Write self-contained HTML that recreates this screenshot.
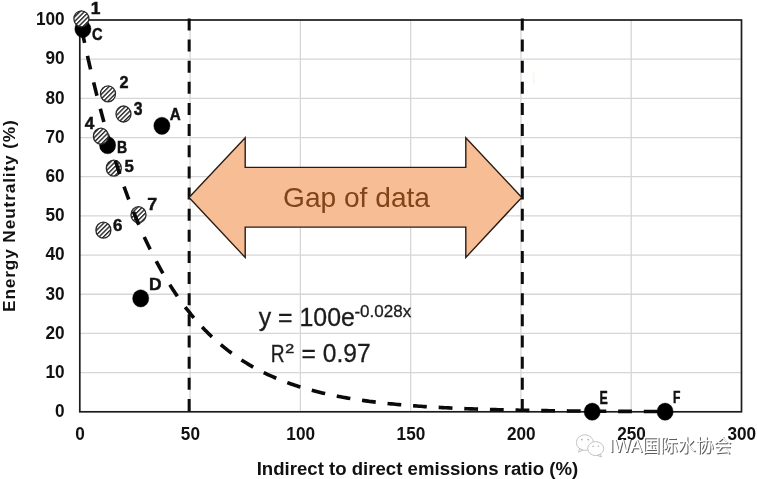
<!DOCTYPE html>
<html lang="en"><head><meta charset="utf-8"><title>Energy neutrality vs indirect to direct emissions ratio</title>
<style>html,body{margin:0;padding:0;background:#fff;}body{width:757px;height:479px;overflow:hidden;}svg{display:block;filter:blur(0.45px);}text{font-family:"Liberation Sans", Arial, Helvetica, sans-serif;}</style></head><body>
<svg width="757" height="479" viewBox="0 0 757 479">
<defs><pattern id="hatch" patternUnits="userSpaceOnUse" width="3.2" height="3.2" patternTransform="rotate(-45)"><rect width="3.2" height="3.2" fill="#fff"/><rect x="0" y="0" width="3.2" height="1.4" fill="#262626"/></pattern></defs>
<rect width="757" height="479" fill="#fff"/>
<path d="M79.8 372.62H741.5M79.8 333.44H741.5M79.8 294.26H741.5M79.8 255.08H741.5M79.8 215.90H741.5M79.8 176.72H741.5M79.8 137.54H741.5M79.8 98.36H741.5M79.8 59.18H741.5M190.08 20.0V411.8M300.37 20.0V411.8M410.65 20.0V411.8M520.93 20.0V411.8M631.22 20.0V411.8" stroke="#d6d6d6" stroke-width="1.3" fill="none"/>
<rect x="79.8" y="20.0" width="661.7" height="391.8" fill="none" stroke="#1c1c1c" stroke-width="1.7"/>
<text transform="translate(64.60 417.10) scale(1.0000 1.0650)" font-size="17.20" font-weight="bold" fill="#111" text-anchor="end">0</text>
<text transform="translate(64.60 377.92) scale(1.0000 1.0650)" font-size="17.20" font-weight="bold" fill="#111" text-anchor="end">10</text>
<text transform="translate(64.60 338.74) scale(1.0000 1.0650)" font-size="17.20" font-weight="bold" fill="#111" text-anchor="end">20</text>
<text transform="translate(64.60 299.56) scale(1.0000 1.0650)" font-size="17.20" font-weight="bold" fill="#111" text-anchor="end">30</text>
<text transform="translate(64.60 260.38) scale(1.0000 1.0650)" font-size="17.20" font-weight="bold" fill="#111" text-anchor="end">40</text>
<text transform="translate(64.60 221.20) scale(1.0000 1.0650)" font-size="17.20" font-weight="bold" fill="#111" text-anchor="end">50</text>
<text transform="translate(64.60 182.02) scale(1.0000 1.0650)" font-size="17.20" font-weight="bold" fill="#111" text-anchor="end">60</text>
<text transform="translate(64.60 142.84) scale(1.0000 1.0650)" font-size="17.20" font-weight="bold" fill="#111" text-anchor="end">70</text>
<text transform="translate(64.60 103.66) scale(1.0000 1.0650)" font-size="17.20" font-weight="bold" fill="#111" text-anchor="end">80</text>
<text transform="translate(64.60 64.48) scale(1.0000 1.0650)" font-size="17.20" font-weight="bold" fill="#111" text-anchor="end">90</text>
<text transform="translate(64.60 25.30) scale(1.0000 1.0650)" font-size="17.20" font-weight="bold" fill="#111" text-anchor="end">100</text>
<text transform="translate(80.10 439.90) scale(1.0000 1.0650)" font-size="17.20" font-weight="bold" fill="#111" text-anchor="middle">0</text>
<text transform="translate(190.38 439.90) scale(1.0000 1.0650)" font-size="17.20" font-weight="bold" fill="#111" text-anchor="middle">50</text>
<text transform="translate(300.67 439.90) scale(1.0000 1.0650)" font-size="17.20" font-weight="bold" fill="#111" text-anchor="middle">100</text>
<text transform="translate(410.95 439.90) scale(1.0000 1.0650)" font-size="17.20" font-weight="bold" fill="#111" text-anchor="middle">150</text>
<text transform="translate(521.23 439.90) scale(1.0000 1.0650)" font-size="17.20" font-weight="bold" fill="#111" text-anchor="middle">200</text>
<text transform="translate(631.52 439.90) scale(1.0000 1.0650)" font-size="17.20" font-weight="bold" fill="#111" text-anchor="middle">250</text>
<text transform="translate(741.80 439.90) scale(1.0000 1.0650)" font-size="17.20" font-weight="bold" fill="#111" text-anchor="middle">300</text>
<text transform="translate(417.40 474.50) scale(1.0000 1.0650)" font-size="16.60" font-weight="bold" fill="#111" text-anchor="middle" textLength="321.5" lengthAdjust="spacingAndGlyphs">Indirect to direct emissions ratio (%)</text>
<text transform="translate(15.3 216.1) rotate(-90) scale(1 0.98)" font-size="17.3" font-weight="bold" fill="#111" text-anchor="middle" textLength="191.8" lengthAdjust="spacing">Energy Neutrality (%)</text>
<path d="M189.15 18.4V411.2" stroke="#0c0c0c" stroke-width="3.0" stroke-dasharray="12 9.14" fill="none"/>
<path d="M522.30 18.4V411.2" stroke="#0c0c0c" stroke-width="3.0" stroke-dasharray="12 9.14" fill="none"/>
<rect x="532.8" y="72" width="1.8" height="12" fill="#f8f7ec"/>
<path d="M189 197.4 L245.2 137.7 V167.4 H465.8 V137.7 L521.8 197.4 L465.8 257.4 V227.1 H245.2 V257.4 Z" fill="#f7bd95" stroke="#2a1c14" stroke-width="1.4" stroke-linejoin="miter"/>
<text transform="translate(356.50 207.00) scale(1.0000 1.0300)" font-size="27.00" font-weight="normal" fill="#80431a" text-anchor="middle" textLength="147" lengthAdjust="spacingAndGlyphs">Gap of data</text>
<path d="M81.74 29.40 L82.15 31.33 L82.55 33.26 L82.96 35.19 L83.37 37.12 L83.78 39.05 L84.20 40.97 L84.61 42.90 M87.49 55.93 L87.92 57.85 L88.35 59.77 L88.79 61.69 L89.23 63.62 L89.67 65.54 L90.12 67.46 L90.57 69.38 M93.65 82.36 L94.12 84.27 L94.59 86.19 L95.06 88.10 L95.53 90.01 L96.01 91.93 L96.49 93.84 L96.97 95.75 M100.30 108.67 L100.81 110.57 L101.32 112.48 L101.83 114.38 L102.34 116.29 L102.86 118.19 L103.37 120.09 L103.90 121.99 M107.52 134.83 L108.07 136.72 L108.62 138.62 L109.17 140.51 L109.73 142.40 L110.30 144.29 L110.86 146.18 L111.43 148.06 M115.39 160.80 L115.99 162.68 L116.59 164.56 L117.20 166.43 L117.81 168.31 L118.43 170.18 L119.05 172.05 L119.68 173.92 M124.03 186.53 L124.69 188.39 L125.36 190.24 L126.03 192.10 L126.71 193.95 L127.39 195.80 L128.07 197.65 L128.77 199.49 M133.59 211.93 L134.32 213.76 L135.06 215.59 L135.81 217.41 L136.56 219.23 L137.32 221.05 L138.09 222.87 L138.86 224.68 M144.25 236.89 L145.07 238.68 L145.90 240.47 L146.74 242.25 L147.58 244.03 L148.43 245.81 L149.29 247.58 L150.16 249.36 M156.23 261.23 L157.16 262.97 L158.09 264.71 L159.04 266.44 L159.99 268.16 L160.96 269.88 L161.93 271.60 L162.91 273.31 M169.79 284.74 L170.84 286.40 L171.91 288.06 L172.98 289.71 L174.07 291.36 L175.16 293.00 L176.27 294.63 L177.38 296.26 M185.22 307.05 L186.42 308.61 L187.64 310.17 L188.86 311.71 L190.10 313.25 L191.34 314.77 L192.60 316.29 L193.87 317.80 M202.18 327.08 L203.54 328.51 L204.91 329.93 L206.30 331.33 L207.69 332.72 L209.10 334.10 L210.52 335.47 L211.95 336.83 M220.81 344.69 L222.33 345.96 L223.85 347.20 L225.39 348.43 L226.94 349.65 L228.50 350.85 L230.08 352.04 L231.66 353.22 M241.41 359.95 L243.07 361.01 L244.74 362.06 L246.42 363.09 L248.11 364.11 L249.81 365.11 L251.51 366.10 L253.23 367.07 M263.72 372.58 L265.49 373.44 L267.28 374.28 L269.06 375.11 L270.86 375.93 L272.66 376.73 L274.47 377.51 L276.28 378.28 M287.32 382.60 L289.17 383.27 L291.03 383.93 L292.89 384.57 L294.76 385.20 L296.63 385.82 L298.51 386.42 L300.39 387.01 M311.78 390.30 L313.68 390.81 L315.59 391.30 L317.50 391.79 L319.41 392.26 L321.33 392.72 L323.25 393.18 L325.17 393.62 M336.76 396.07 L338.70 396.45 L340.63 396.82 L342.57 397.18 L344.51 397.53 L346.45 397.87 L348.40 398.20 L350.34 398.53 M362.05 400.34 L364.00 400.62 L365.96 400.89 L367.91 401.15 L369.87 401.41 L371.82 401.66 L373.78 401.90 L375.73 402.14 M387.51 403.47 L389.47 403.67 L391.43 403.87 L393.39 404.06 L395.36 404.25 L397.32 404.43 L399.28 404.61 L401.25 404.78 M413.06 405.75 L415.02 405.89 L416.99 406.04 L418.96 406.18 L420.92 406.31 L422.89 406.45 L424.86 406.58 L426.82 406.70 M438.65 407.41 L440.62 407.51 L442.59 407.62 L444.56 407.72 L446.53 407.82 L448.50 407.91 L450.47 408.01 L452.44 408.10 M464.27 408.61 L466.24 408.69 L468.21 408.76 L470.18 408.84 L472.15 408.91 L474.12 408.98 L476.09 409.05 L478.07 409.12 M489.91 409.49 L491.88 409.54 L493.85 409.60 L495.82 409.65 L497.79 409.70 L499.76 409.75 L501.73 409.80 L503.70 409.85 M515.55 410.12 L517.52 410.16 L519.49 410.20 L521.46 410.24 L523.44 410.28 L525.41 410.32 L527.38 410.35 L529.35 410.39 M541.20 410.58 L543.17 410.61 L545.14 410.64 L547.11 410.67 L549.08 410.70 L551.05 410.72 L553.02 410.75 L555.00 410.78 M566.85 410.92 L568.82 410.94 L570.79 410.96 L572.76 410.98 L574.73 411.00 L576.70 411.02 L578.67 411.04 L580.64 411.06 M592.49 411.16 L594.47 411.17 L596.44 411.19 L598.41 411.20 L600.38 411.22 L602.35 411.23 L604.32 411.25 L606.29 411.26 M618.14 411.33 L620.11 411.35 L622.09 411.36 L624.06 411.37 L626.03 411.38 L628.00 411.39 L629.97 411.40 L631.94 411.41 M643.79 411.46 L645.76 411.47 L647.74 411.48 L649.71 411.49 L651.68 411.49 L653.65 411.50 L655.62 411.51 L657.59 411.52" fill="none" stroke="#0a0a0a" stroke-width="3.6"/>
<ellipse cx="82.9" cy="29.0" rx="8.10" ry="8.65" fill="#000" stroke="#000" stroke-width="0.4"/><ellipse cx="161.9" cy="125.8" rx="8.10" ry="8.65" fill="#000" stroke="#000" stroke-width="0.4"/><ellipse cx="107.6" cy="145.2" rx="8.10" ry="8.65" fill="#000" stroke="#000" stroke-width="0.4"/><ellipse cx="140.7" cy="298.4" rx="8.10" ry="8.65" fill="#000" stroke="#000" stroke-width="0.4"/><ellipse cx="592.2" cy="411.7" rx="8.10" ry="8.65" fill="#000" stroke="#000" stroke-width="0.4"/><ellipse cx="665.1" cy="411.7" rx="8.10" ry="8.65" fill="#000" stroke="#000" stroke-width="0.4"/>
<ellipse cx="81.4" cy="18.8" rx="7.50" ry="8.00" fill="url(#hatch)" stroke="#2a2a2a" stroke-width="1.3"/><ellipse cx="108.0" cy="93.8" rx="7.50" ry="8.00" fill="url(#hatch)" stroke="#2a2a2a" stroke-width="1.3"/><ellipse cx="123.5" cy="114.0" rx="7.50" ry="8.00" fill="url(#hatch)" stroke="#2a2a2a" stroke-width="1.3"/><ellipse cx="100.9" cy="136.2" rx="7.50" ry="8.00" fill="url(#hatch)" stroke="#2a2a2a" stroke-width="1.3"/><ellipse cx="113.8" cy="168.2" rx="7.50" ry="8.00" fill="url(#hatch)" stroke="#2a2a2a" stroke-width="1.3"/><ellipse cx="138.5" cy="214.7" rx="7.50" ry="8.00" fill="url(#hatch)" stroke="#2a2a2a" stroke-width="1.3"/><ellipse cx="103.4" cy="230.2" rx="7.50" ry="8.00" fill="url(#hatch)" stroke="#2a2a2a" stroke-width="1.3"/>
<clipPath id="c57"><circle cx="113.8" cy="168.2" r="9.5"/><circle cx="138.5" cy="214.7" r="9.5"/></clipPath>
<g clip-path="url(#c57)"><path d="M81.74 29.40 L82.15 31.33 L82.55 33.26 L82.96 35.19 L83.37 37.12 L83.78 39.05 L84.20 40.97 L84.61 42.90 M87.49 55.93 L87.92 57.85 L88.35 59.77 L88.79 61.69 L89.23 63.62 L89.67 65.54 L90.12 67.46 L90.57 69.38 M93.65 82.36 L94.12 84.27 L94.59 86.19 L95.06 88.10 L95.53 90.01 L96.01 91.93 L96.49 93.84 L96.97 95.75 M100.30 108.67 L100.81 110.57 L101.32 112.48 L101.83 114.38 L102.34 116.29 L102.86 118.19 L103.37 120.09 L103.90 121.99 M107.52 134.83 L108.07 136.72 L108.62 138.62 L109.17 140.51 L109.73 142.40 L110.30 144.29 L110.86 146.18 L111.43 148.06 M115.39 160.80 L115.99 162.68 L116.59 164.56 L117.20 166.43 L117.81 168.31 L118.43 170.18 L119.05 172.05 L119.68 173.92 M124.03 186.53 L124.69 188.39 L125.36 190.24 L126.03 192.10 L126.71 193.95 L127.39 195.80 L128.07 197.65 L128.77 199.49 M133.59 211.93 L134.32 213.76 L135.06 215.59 L135.81 217.41 L136.56 219.23 L137.32 221.05 L138.09 222.87 L138.86 224.68 M144.25 236.89 L145.07 238.68 L145.90 240.47 L146.74 242.25 L147.58 244.03 L148.43 245.81 L149.29 247.58 L150.16 249.36 M156.23 261.23 L157.16 262.97 L158.09 264.71 L159.04 266.44 L159.99 268.16 L160.96 269.88 L161.93 271.60 L162.91 273.31 M169.79 284.74 L170.84 286.40 L171.91 288.06 L172.98 289.71 L174.07 291.36 L175.16 293.00 L176.27 294.63 L177.38 296.26 M185.22 307.05 L186.42 308.61 L187.64 310.17 L188.86 311.71 L190.10 313.25 L191.34 314.77 L192.60 316.29 L193.87 317.80 M202.18 327.08 L203.54 328.51 L204.91 329.93 L206.30 331.33 L207.69 332.72 L209.10 334.10 L210.52 335.47 L211.95 336.83 M220.81 344.69 L222.33 345.96 L223.85 347.20 L225.39 348.43 L226.94 349.65 L228.50 350.85 L230.08 352.04 L231.66 353.22 M241.41 359.95 L243.07 361.01 L244.74 362.06 L246.42 363.09 L248.11 364.11 L249.81 365.11 L251.51 366.10 L253.23 367.07 M263.72 372.58 L265.49 373.44 L267.28 374.28 L269.06 375.11 L270.86 375.93 L272.66 376.73 L274.47 377.51 L276.28 378.28 M287.32 382.60 L289.17 383.27 L291.03 383.93 L292.89 384.57 L294.76 385.20 L296.63 385.82 L298.51 386.42 L300.39 387.01 M311.78 390.30 L313.68 390.81 L315.59 391.30 L317.50 391.79 L319.41 392.26 L321.33 392.72 L323.25 393.18 L325.17 393.62 M336.76 396.07 L338.70 396.45 L340.63 396.82 L342.57 397.18 L344.51 397.53 L346.45 397.87 L348.40 398.20 L350.34 398.53 M362.05 400.34 L364.00 400.62 L365.96 400.89 L367.91 401.15 L369.87 401.41 L371.82 401.66 L373.78 401.90 L375.73 402.14 M387.51 403.47 L389.47 403.67 L391.43 403.87 L393.39 404.06 L395.36 404.25 L397.32 404.43 L399.28 404.61 L401.25 404.78 M413.06 405.75 L415.02 405.89 L416.99 406.04 L418.96 406.18 L420.92 406.31 L422.89 406.45 L424.86 406.58 L426.82 406.70 M438.65 407.41 L440.62 407.51 L442.59 407.62 L444.56 407.72 L446.53 407.82 L448.50 407.91 L450.47 408.01 L452.44 408.10 M464.27 408.61 L466.24 408.69 L468.21 408.76 L470.18 408.84 L472.15 408.91 L474.12 408.98 L476.09 409.05 L478.07 409.12 M489.91 409.49 L491.88 409.54 L493.85 409.60 L495.82 409.65 L497.79 409.70 L499.76 409.75 L501.73 409.80 L503.70 409.85 M515.55 410.12 L517.52 410.16 L519.49 410.20 L521.46 410.24 L523.44 410.28 L525.41 410.32 L527.38 410.35 L529.35 410.39 M541.20 410.58 L543.17 410.61 L545.14 410.64 L547.11 410.67 L549.08 410.70 L551.05 410.72 L553.02 410.75 L555.00 410.78 M566.85 410.92 L568.82 410.94 L570.79 410.96 L572.76 410.98 L574.73 411.00 L576.70 411.02 L578.67 411.04 L580.64 411.06 M592.49 411.16 L594.47 411.17 L596.44 411.19 L598.41 411.20 L600.38 411.22 L602.35 411.23 L604.32 411.25 L606.29 411.26 M618.14 411.33 L620.11 411.35 L622.09 411.36 L624.06 411.37 L626.03 411.38 L628.00 411.39 L629.97 411.40 L631.94 411.41 M643.79 411.46 L645.76 411.47 L647.74 411.48 L649.71 411.49 L651.68 411.49 L653.65 411.50 L655.62 411.51 L657.59 411.52" fill="none" stroke="#0a0a0a" stroke-width="3.6"/></g>
<text transform="translate(90.67 13.70) scale(0.9677 0.9179)" font-size="18.00" font-weight="bold" fill="#111" text-anchor="start" stroke="#111" stroke-width="0.5">1</text>
<text transform="translate(92.11 40.34) scale(0.8142 0.8998)" font-size="18.00" font-weight="bold" fill="#111" text-anchor="start" stroke="#111" stroke-width="0.5">C</text>
<text transform="translate(119.43 88.30) scale(0.9028 0.9524)" font-size="18.00" font-weight="bold" fill="#111" text-anchor="start" stroke="#111" stroke-width="0.5">2</text>
<text transform="translate(133.71 115.23) scale(0.8754 0.9703)" font-size="18.00" font-weight="bold" fill="#111" text-anchor="start" stroke="#111" stroke-width="0.5">3</text>
<text transform="translate(169.72 120.20) scale(0.8458 0.9581)" font-size="18.00" font-weight="bold" fill="#111" text-anchor="start" stroke="#111" stroke-width="0.5">A</text>
<text transform="translate(84.64 128.60) scale(0.9553 0.9259)" font-size="18.00" font-weight="bold" fill="#111" text-anchor="start" stroke="#111" stroke-width="0.5">4</text>
<text transform="translate(116.98 152.60) scale(0.7832 0.9581)" font-size="18.00" font-weight="bold" fill="#111" text-anchor="start" stroke="#111" stroke-width="0.5">B</text>
<text transform="translate(124.50 171.94) scale(0.9333 0.8968)" font-size="18.00" font-weight="bold" fill="#111" text-anchor="start" stroke="#111" stroke-width="0.5">5</text>
<text transform="translate(147.20 210.30) scale(0.9916 0.9259)" font-size="18.00" font-weight="bold" fill="#111" text-anchor="start" stroke="#111" stroke-width="0.5">7</text>
<text transform="translate(113.11 231.43) scale(0.9393 0.9390)" font-size="18.00" font-weight="bold" fill="#111" text-anchor="start" stroke="#111" stroke-width="0.5">6</text>
<text transform="translate(148.97 289.70) scale(0.9666 0.9581)" font-size="18.00" font-weight="bold" fill="#111" text-anchor="start" stroke="#111" stroke-width="0.5">D</text>
<text transform="translate(599.59 403.50) scale(0.6883 0.9984)" font-size="18.00" font-weight="bold" fill="#111" text-anchor="start" stroke="#111" stroke-width="0.5">E</text>
<text transform="translate(672.91 402.78) scale(0.6754 0.9408)" font-size="18.00" font-weight="bold" fill="#111" text-anchor="start" stroke="#111" stroke-width="0.5">F</text>
<text transform="translate(258.68 325.50) scale(0.9961 1.0286)" font-size="25.00" font-weight="normal" fill="#1c1c1c" text-anchor="start" stroke="#1c1c1c" stroke-width="0.30">y = 100e</text>
<text transform="translate(354.43 317.40) scale(1.0308 1.0216)" font-size="16.50" font-weight="normal" fill="#1c1c1c" text-anchor="start" stroke="#1c1c1c" stroke-width="0.30">-0.028x</text>
<text transform="translate(270.67 361.65) scale(0.7661 0.9800)" font-size="25.00" font-weight="normal" fill="#1c1c1c" text-anchor="start" stroke="#1c1c1c" stroke-width="0.30">R</text>
<text transform="translate(285.20 353.40) scale(1.1884 0.8783)" font-size="13.50" font-weight="normal" fill="#1c1c1c" text-anchor="start" stroke="#1c1c1c" stroke-width="0.50">2</text>
<text transform="translate(301.57 361.70) scale(0.9830 1.0114)" font-size="25.00" font-weight="normal" fill="#1c1c1c" text-anchor="start" stroke="#1c1c1c" stroke-width="0.30">= 0.97</text>
<g fill="#fff" stroke="#b5b5b5" stroke-width="0.8"><ellipse cx="584.9" cy="442.6" rx="8.5" ry="7.8"/><path d="M579.5 448.6 L578.6 452.2 L582.6 450.2Z" stroke-linejoin="round"/><ellipse cx="595.7" cy="448.6" rx="8" ry="7"/><path d="M600.2 454.2 L601.6 457 L597.6 455.5Z" stroke-linejoin="round"/></g>
<g fill="#b0b0b0"><circle cx="581.8" cy="439.6" r="0.9"/><circle cx="588.2" cy="439.6" r="0.9"/><circle cx="593" cy="446.3" r="0.8"/><circle cx="598.4" cy="446.3" r="0.8"/></g>
<text x="609.1" y="452.1" font-size="17.7" fill="#fff" textLength="122.3" lengthAdjust="spacingAndGlyphs" style="font-family:'Liberation Sans','Noto Sans CJK SC',sans-serif;filter:drop-shadow(1.15px 1px 0 #5e5e5e)">IWA国际水协会</text>
</svg></body></html>
